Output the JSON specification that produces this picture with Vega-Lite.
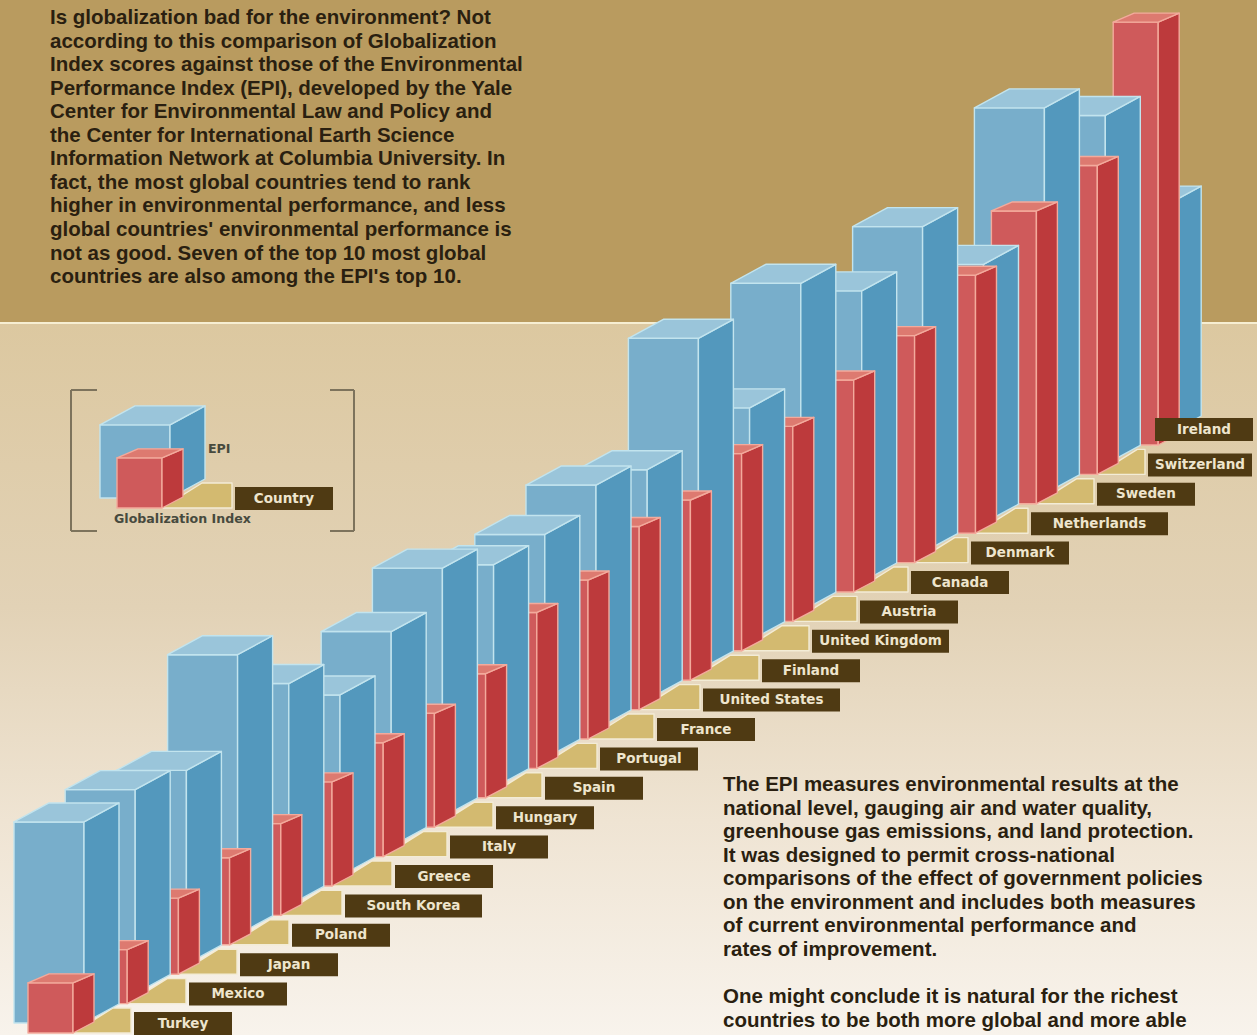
{"$schema":"https://vega.github.io/schema/vega-lite/v6.json","width":1257,"height":1035,"padding":0,"autosize":{"type":"none"},"background":"#e6d6b6","config":{"view":{"stroke":null}},
"data":{"values":[
{"country":"Ireland","rank":20,"epi":54.1,"globalization":99.5},
{"country":"Switzerland","rank":19,"epi":82.1,"globalization":72.7},
{"country":"Sweden","rank":18,"epi":90.8,"globalization":68.9},
{"country":"Netherlands","rank":17,"epi":60.9,"globalization":60.7},
{"country":"Denmark","rank":16,"epi":76.7,"globalization":53.4},
{"country":"Canada","rank":15,"epi":68.5,"globalization":49.9},
{"country":"Austria","rank":14,"epi":77.2,"globalization":45.9},
{"country":"United Kingdom","rank":13,"epi":54.8,"globalization":46.4},
{"country":"Finland","rank":12,"epi":78.1,"globalization":42.4},
{"country":"United States","rank":11,"epi":54.1,"globalization":43.1},
{"country":"France","rank":10,"epi":57.4,"globalization":37.4},
{"country":"Portugal","rank":9,"epi":52.7,"globalization":36.7},
{"country":"Spain","rank":8,"epi":52.5,"globalization":29.2},
{"country":"Hungary","rank":7,"epi":58.6,"globalization":26.8},
{"country":"Italy","rank":6,"epi":50.6,"globalization":26.8},
{"country":"Greece","rank":5,"epi":42.6,"globalization":24.5},
{"country":"South Korea","rank":4,"epi":52.2,"globalization":21.6},
{"country":"Poland","rank":3,"epi":65.9,"globalization":20.5},
{"country":"Japan","rank":2,"epi":45.6,"globalization":17.9},
{"country":"Mexico","rank":1,"epi":48.0,"globalization":12.7},
{"country":"Turkey","rank":0,"epi":47.3,"globalization":11.8},
{"country":"Country","rank":21,"epi":17.2,"globalization":11.8}
]},
"transform":[
{"calculate":"datum.country==='Country'","as":"isKey"},
{"calculate":"datum.isKey?100:14+51.2*datum.rank+9.7*max(0,datum.rank-14)","as":"bl"},
{"calculate":"datum.isKey?498:1023-29.4*datum.rank","as":"by"},
{"calculate":"datum.by-datum.epi*4.25","as":"bt"},
{"calculate":"datum.bl+(datum.rank===0?59:62)","as":"rr"},
{"calculate":"datum.rr-45","as":"rl"},
{"calculate":"datum.by+10","as":"rb"},
{"calculate":"datum.rb-datum.globalization*4.25","as":"rt"},
{"calculate":"[134,189,240,292,345,395,450,496,545,600,657,703,762,812,860,911,971,1031,1097,1148,1155,235][datum.rank]","as":"ll"},
{"calculate":"indexof(['South Korea','United States','United Kingdom','Netherlands'],datum.country)>=0?137:(datum.country==='Switzerland'?104:98)","as":"lw"},
{"calculate":"datum.rb-(datum.rank===20?27:21)","as":"ly"}
],
"encoding":{
"x":{"field":"px","type":"quantitative","axis":null,"scale":{"domain":[0,1257],"nice":false,"zero":false}},
"y":{"field":"py","type":"quantitative","axis":null,"scale":{"domain":[1035,0],"nice":false,"zero":false}}
},
"layer":[
{"data":{"values":[{"band":"upper"}]},"transform":[{"calculate":"0","as":"px"},{"calculate":"1257","as":"px2"},{"calculate":"0","as":"py"},{"calculate":"323","as":"py2"}],"mark":{"type":"rect","color":"#b99b5f"},"encoding":{"x2":{"field":"px2"},"y2":{"field":"py2"}}},
{"data":{"values":[{"band":"lower"}]},"transform":[{"calculate":"0","as":"px"},{"calculate":"1257","as":"px2"},{"calculate":"323","as":"py"},{"calculate":"1035","as":"py2"}],"mark":{"type":"rect","color":{"gradient":"linear","x1":0,"y1":0,"x2":0,"y2":1,"stops":[{"offset":0,"color":"#dcc8a0"},{"offset":0.4,"color":"#e2d2b6"},{"offset":0.7,"color":"#efe4d3"},{"offset":1,"color":"#f8f3ec"}]}},"encoding":{"x2":{"field":"px2"},"y2":{"field":"py2"}}},
{"data":{"values":[{"band":"line"}]},"transform":[{"calculate":"0","as":"px"},{"calculate":"1257","as":"px2"},{"calculate":"323","as":"py"},{"calculate":"323","as":"py2"}],"mark":{"type":"rule","color":"#f6eed2","strokeWidth":2},"encoding":{"x2":{"field":"px2"},"y2":{"field":"py2"}}},
{"transform":[
{"calculate":"[{p:'floor',x:datum.rr,y:datum.rb,y2:datum.rb},{p:'floor',x:min(datum.rr+40,datum.ll-3),y:datum.rb-25,y2:datum.rb},{p:'floor',x:datum.ll-3,y:datum.rb-25,y2:datum.rb},{p:'blueFront',x:datum.bl,y:datum.bt,y2:datum.by},{p:'blueFront',x:datum.bl+70,y:datum.bt,y2:datum.by},{p:'blueSide',x:datum.bl+70,y:datum.bt,y2:datum.by},{p:'blueSide',x:datum.bl+105,y:datum.bt-19,y2:datum.by-19},{p:'blueTop',x:datum.bl,y:datum.bt,y2:datum.bt},{p:'blueTop',x:datum.bl+35,y:datum.bt-19,y2:datum.bt},{p:'blueTop',x:datum.bl+70,y:datum.bt-19,y2:datum.bt},{p:'blueTop',x:datum.bl+105,y:datum.bt-19,y2:datum.bt-19},{p:'redFront',x:datum.rl,y:datum.rt,y2:datum.rb},{p:'redFront',x:datum.rr,y:datum.rt,y2:datum.rb},{p:'redSide',x:datum.rr,y:datum.rt,y2:datum.rb},{p:'redSide',x:datum.rr+21,y:datum.rt-9,y2:datum.rb-11},{p:'redTop',x:datum.rl,y:datum.rt,y2:datum.rt},{p:'redTop',x:datum.rl+21,y:datum.rt-9,y2:datum.rt},{p:'redTop',x:datum.rr,y:datum.rt-9,y2:datum.rt},{p:'redTop',x:datum.rr+21,y:datum.rt-9,y2:datum.rt-9}]","as":"v"},
{"flatten":["v"]},
{"calculate":"datum.v.x","as":"px"},
{"calculate":"datum.v.y","as":"py"},
{"calculate":"datum.v.y2","as":"py2"},
{"calculate":"datum.v.p","as":"part"},
{"calculate":"datum.country+'-'+datum.v.p","as":"poly"}
],
"mark":{"type":"area","strokeWidth":1.4,"fillOpacity":1,"strokeJoin":"round"},
"encoding":{
"y2":{"field":"py2"},
"detail":{"field":"poly"},
"color":{"field":"part","type":"nominal","legend":null,"scale":{"domain":["floor","blueFront","blueSide","blueTop","redFront","redSide","redTop"],"range":["#d3ba70","#78aecb","#5398bd","#9ac5da","#cf5a5b","#bd3a3c","#dd7a70"]}},
"stroke":{"field":"part","type":"nominal","legend":null,"scale":{"domain":["floor","blueFront","blueSide","blueTop","redFront","redSide","redTop"],"range":["#f3ecd6","#c2e4ee","#c2e4ee","#c2e4ee","#f3aa9c","#f3aa9c","#f3aa9c"]}}
}},
{"transform":[{"calculate":"datum.ll","as":"px"},{"calculate":"datum.ll+datum.lw","as":"px2"},{"calculate":"datum.ly","as":"py"},{"calculate":"datum.ly+23","as":"py2"}],"mark":{"type":"rect","color":"#4f3a13"},"encoding":{"x2":{"field":"px2"},"y2":{"field":"py2"}}},
{"transform":[{"calculate":"datum.ll+datum.lw/2","as":"px"},{"calculate":"datum.ly+11.5","as":"py"}],"mark":{"type":"text","font":"DejaVu Sans","fontWeight":"bold","fontSize":13.5,"color":"#eee5cd","align":"center","baseline":"middle"},"encoding":{"text":{"field":"country"}}},
{"data":{"values":[{"text":"EPI","i":0},{"text":"Globalization Index","i":1}]},"transform":[{"calculate":"[208,114][datum.i]","as":"px"},{"calculate":"[449,519][datum.i]","as":"py"}],"mark":{"type":"text","font":"DejaVu Sans","fontWeight":"bold","fontSize":12.6,"color":"#474a3e","align":"left","baseline":"middle"},"encoding":{"text":{"field":"text"}}},
{"data":{"values":[{"s":0},{"s":1},{"s":2},{"s":3},{"s":4},{"s":5}]},"transform":[{"calculate":"[71,71,71,354,330,330][datum.s]","as":"px"},{"calculate":"[71,97,97,354,354,354][datum.s]","as":"px2"},{"calculate":"[390,390,531,390,390,531][datum.s]","as":"py"},{"calculate":"[531,390,531,531,390,531][datum.s]","as":"py2"}],"mark":{"type":"rule","color":"#7d735c","strokeWidth":2},"encoding":{"x2":{"field":"px2"},"y2":{"field":"py2"}}},
{"data":{"values":[
{"block":0,"line":0,"text":"Is globalization bad for the environment? Not"},
{"block":0,"line":1,"text":"according to this comparison of Globalization"},
{"block":0,"line":2,"text":"Index scores against those of the Environmental"},
{"block":0,"line":3,"text":"Performance Index (EPI), developed by the Yale"},
{"block":0,"line":4,"text":"Center for Environmental Law and Policy and"},
{"block":0,"line":5,"text":"the Center for International Earth Science"},
{"block":0,"line":6,"text":"Information Network at Columbia University. In"},
{"block":0,"line":7,"text":"fact, the most global countries tend to rank"},
{"block":0,"line":8,"text":"higher in environmental performance, and less"},
{"block":0,"line":9,"text":"global countries' environmental performance is"},
{"block":0,"line":10,"text":"not as good. Seven of the top 10 most global"},
{"block":0,"line":11,"text":"countries are also among the EPI's top 10."},
{"block":1,"line":0,"text":"The EPI measures environmental results at the"},
{"block":1,"line":1,"text":"national level, gauging air and water quality,"},
{"block":1,"line":2,"text":"greenhouse gas emissions, and land protection."},
{"block":1,"line":3,"text":"It was designed to permit cross-national"},
{"block":1,"line":4,"text":"comparisons of the effect of government policies"},
{"block":1,"line":5,"text":"on the environment and includes both measures"},
{"block":1,"line":6,"text":"of current environmental performance and"},
{"block":1,"line":7,"text":"rates of improvement."},
{"block":1,"line":9,"text":"One might conclude it is natural for the richest"},
{"block":1,"line":10,"text":"countries to be both more global and more able"}
]},"transform":[{"calculate":"datum.block===0?50:723","as":"px"},{"calculate":"(datum.block===0?18:785)+23.55*datum.line","as":"py"}],"mark":{"type":"text","font":"Liberation Sans","fontWeight":"bold","fontSize":20.5,"color":"#2a1f10","align":"left","baseline":"middle"},"encoding":{"text":{"field":"text"}}}
]}
